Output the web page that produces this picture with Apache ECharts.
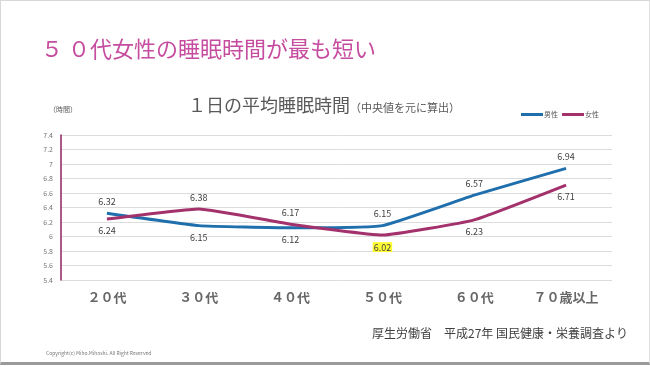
<!DOCTYPE html>
<html><head><meta charset="utf-8">
<script src="https://cdn.jsdelivr.net/npm/echarts@6/dist/echarts.min.js"></script>
<style>
html,body{margin:0;padding:0;background:#fff;}
#frame{position:absolute;left:0;top:0;width:648px;height:361px;border:1px solid #d8d8d8;border-bottom:3px solid #9a9a9a;border-right:1px solid #e0e0e0;}
#c{position:absolute;left:0;top:0;width:650px;height:367px;}
</style></head>
<body><div id="frame"></div><div id="c"></div>
<script>
const categories = ['２０代','３０代','４０代','５０代','６０代','７０歳以上'];
const male = [6.32, 6.15, 6.12, 6.15, 6.57, 6.94];
const female = [6.24, 6.38, 6.17, 6.02, 6.23, 6.71];
const maleLabelPos = ['top','bottom','bottom','top','top','top'];
const femaleLabelPos = ['bottom','top','top','bottom','bottom','bottom'];
const highlightIndex = 3;

const font = '"Noto Sans CJK JP", "Noto Sans", sans-serif';
const chart = echarts.init(document.getElementById('c'), null, {renderer:'canvas'});
function mk(vals, pos, hi){
  return vals.map((v,i)=>{
    const o = {value:v, label:{position:pos[i]}};
    if (hi && i===highlightIndex) { o.label.backgroundColor = '#ffff33'; o.label.padding=[1,1,0,1]; }
    return o;
  });
}
chart.setOption({
  animation:false,
  textStyle:{fontFamily:font},
  title:[
    {text:'５ ０代女性の睡眠時間が最も短い', left:36, top:33,
     textStyle:{fontSize:22, fontWeight:'normal', color:'#c64c9f', fontFamily:font}},
    {text:'１日の平均睡眠時間', left:183, top:91,
     textStyle:{fontSize:18, fontWeight:'normal', color:'#595959', fontFamily:font}},
    {text:'（中央値を元に算出）', left:345, top:97,
     textStyle:{fontSize:11, fontWeight:'normal', color:'#595959', fontFamily:font}},
    {text:'（時間）', left:44, top:101,
     textStyle:{fontSize:7, fontWeight:'normal', color:'#595959', fontFamily:font}},
    {text:'厚生労働省　平成27年 国民健康・栄養調査より', left:367, top:322,
     textStyle:{fontSize:12, fontWeight:'normal', color:'#404040', fontFamily:font}},
    {text:'Copyright(c) Miho.Mihashi. All Right Reserved', left:41, top:346,
     textStyle:{fontSize:5, fontWeight:'normal', color:'#777', fontFamily:font}}
  ],
  legend:{
    right:46, top:106, itemWidth:22, itemHeight:3, itemGap:4,
    icon:'rect',
    textStyle:{fontSize:7, color:'#595959', fontFamily:font, padding:[0,0,0,-4]},
    data:['男性','女性']
  },
  grid:{left:61, right:38, top:135, bottom:87},
  xAxis:{
    type:'category', data:categories, boundaryGap:true,
    axisLine:{show:false}, axisTick:{show:false},
    axisLabel:{fontSize:13, fontWeight:'bold', color:'#666', margin:11, fontFamily:font}
  },
  yAxis:{
    type:'value', min:5.4, max:7.4, interval:0.2,
    axisLine:{show:true, lineStyle:{color:'#8e1f63', width:1.5}},
    axisTick:{show:false},
    axisLabel:{fontSize:7, color:'#777', margin:8, formatter:v=>String(Math.round(v*10)/10)},
    splitLine:{lineStyle:{color:'#dcdcdc', width:1}}
  },
  series:[
    {name:'男性', type:'line', data:mk(male, maleLabelPos, false), smooth:0.12,
     symbol:'circle', symbolSize:0.1, showSymbol:true, lineStyle:{width:3, color:'#1f6fad'}, itemStyle:{color:'#1f6fad'},
     label:{show:true, fontSize:9, color:'#404040', distance:7, fontFamily:font}},
    {name:'女性', type:'line', data:mk(female, femaleLabelPos, true), smooth:0.12,
     symbol:'circle', symbolSize:0.1, showSymbol:true, lineStyle:{width:3, color:'#a3316c'}, itemStyle:{color:'#a3316c'},
     label:{show:true, fontSize:9, color:'#404040', distance:7, fontFamily:font}}
  ]
});
</script></body></html>
